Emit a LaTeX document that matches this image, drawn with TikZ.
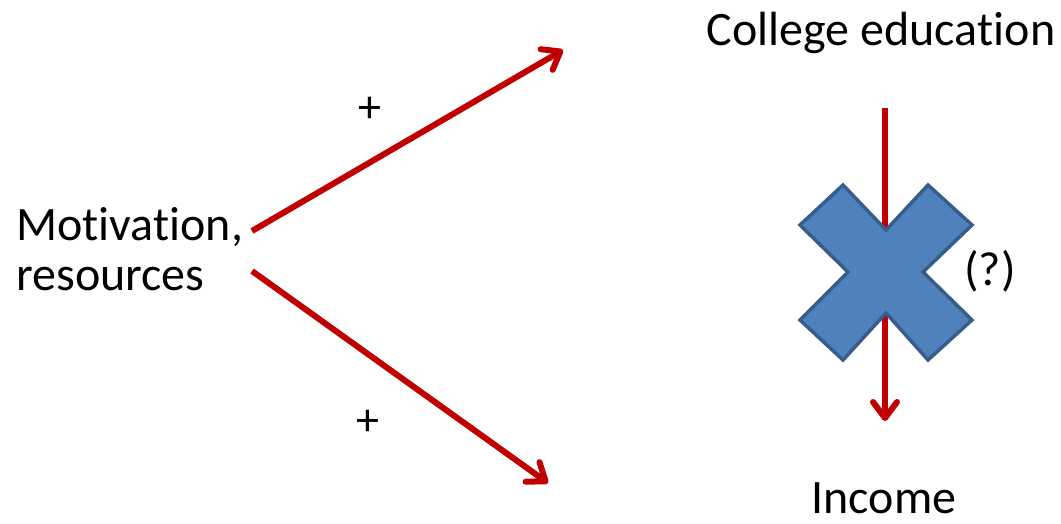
\documentclass[tikz,border=0pt]{standalone}
\usepackage{fontspec}
\setmainfont{Carlito}[Ligatures={NoCommon,NoRequired,NoContextual,NoRare}]
\usetikzlibrary{arrows.meta}
\definecolor{arrowred}{HTML}{C00000}
\definecolor{xfill}{HTML}{4F81BD}
\definecolor{xdraw}{HTML}{385D8A}
\tikzset{
  lbl/.style={inner sep=0pt, font=\fontsize{48}{58}\selectfont},
  plus/.style={inner sep=0pt, font=\fontsize{46}{54}\selectfont},
  redarrow/.style={draw=arrowred, line width=6pt, line cap=butt, line join=round,
    -{Straight Barb[length=16pt, width=24pt, line cap=round, line join=round]}},
}
\begin{document}
\begin{tikzpicture}[x=1pt, y=-1pt]
\useasboundingbox (0,0) rectangle (1061,523);
% labels
\node[lbl, anchor=base] (college) at (881,45) {College educa\kern0pt tion};
\node[lbl, anchor=base west] (motiv) at (16,240) {Motiva\kern0pt tion,};
\node[lbl, anchor=base west] (res) at (16,290) {resources};
\node[lbl, anchor=base] (income) at (884,513) {Income};
\node[plus] (p1) at (370,110) {+};
\node[plus] (p2) at (368,423) {+};
% connector endpoints
\coordinate (s1) at (252,231);
\coordinate (e1) at (563,50);
\coordinate (s2) at (252,271);
\coordinate (e2) at (548,483);
\coordinate (s3) at (885,108);
\coordinate (e3) at (885,421);
\draw[redarrow] (s1) -- (e1);
\draw[redarrow] (s2) -- (e2);
\draw[redarrow] (s3) -- (e3);
% cross
\draw[fill=xfill, draw=xdraw, line width=3.5pt, line join=miter]
  (843,185) -- (886,230) -- (928,185) -- (972,225) -- (923,272) -- (972,320)
  -- (928,360) -- (886,313) -- (843,360) -- (800,320) -- (848,272) -- (800,225) -- cycle;
\node[lbl, anchor=base] (q) at (990,285) {(?)};
\end{tikzpicture}
\end{document}
